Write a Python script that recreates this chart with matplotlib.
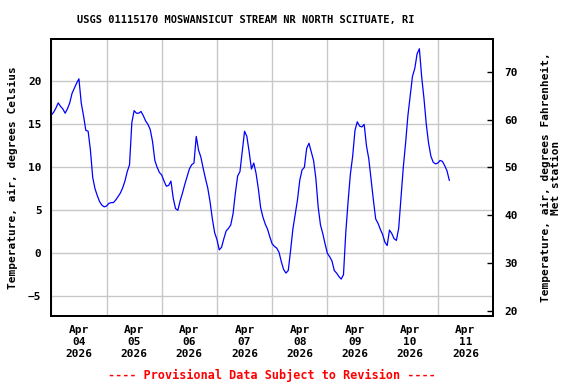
import matplotlib
matplotlib.use("Agg")
import matplotlib.pyplot as plt
import matplotlib.dates as mdates
from datetime import datetime, timedelta

# ---- data (hourly air temperature, deg C, starting 2026-04-04 00:00) ----
start_time = datetime(2026, 4, 4)
temps_c = [
    16.1, 16.4, 16.9, 17.5, 17.1, 16.8, 16.3, 16.8, 17.5, 18.6, 19.2, 19.8,
    20.3, 17.5, 16.0, 14.3, 14.2, 12.0, 8.8, 7.5, 6.7, 6.0, 5.6, 5.4,
    5.5, 5.8, 5.9, 5.9, 6.2, 6.6, 7.0, 7.6, 8.4, 9.5, 10.3, 15.2,
    16.6, 16.3, 16.3, 16.5, 16.0, 15.4, 15.0, 14.4, 13.0, 10.8, 10.0, 9.4,
    9.1, 8.4, 7.8, 7.9, 8.4, 6.4, 5.2, 5.0, 6.1, 7.0, 8.0, 8.9,
    9.8, 10.3, 10.5, 13.6, 12.0, 11.2, 9.9, 8.7, 7.6, 6.0, 4.0, 2.4,
    1.6, 0.4, 0.7, 1.7, 2.6, 2.9, 3.3, 4.6, 7.0, 9.0, 9.5, 11.8,
    14.2, 13.6, 11.8, 9.8, 10.5, 9.3, 7.5, 5.3, 4.2, 3.4, 2.8, 1.9,
    1.1, 0.8, 0.6, 0.1, -1.0, -1.9, -2.3, -2.0, 0.3, 2.8, 4.5, 6.2,
    8.5, 9.7, 10.0, 12.2, 12.8, 11.8, 10.8, 8.7, 5.4, 3.3, 2.3, 1.1,
    0.0, -0.4, -0.9, -2.0, -2.3, -2.7, -3.0, -2.5, 2.4, 6.0, 9.2, 11.3,
    14.3, 15.3, 14.8, 14.7, 15.0, 12.5, 11.0, 8.6, 6.2, 4.0, 3.5, 2.8,
    2.2, 1.3, 0.9, 2.7, 2.3, 1.7, 1.5, 2.9, 6.5, 10.0, 12.8, 16.0,
    18.3, 20.6, 21.5, 23.2, 23.8, 20.5, 18.0, 15.0, 12.8, 11.3, 10.6, 10.4,
    10.5, 10.8, 10.7, 10.2, 9.6, 8.5,
]
times = [start_time + timedelta(hours=i) for i in range(len(temps_c))]

y_ticks_c = [-5, 0, 5, 10, 15, 20]
y_ticks_f = [20, 30, 40, 50, 60, 70]
ylim_c = (-7.26, 24.9)

title = "USGS 01115170 MOSWANSICUT STREAM NR NORTH SCITUATE, RI"
ylabel_left = "Temperature, air, degrees Celsius"
ylabel_right = "Temperature, air, degrees Fahrenheit,\nMet station"
footer = "---- Provisional Data Subject to Revision ----"

plt.rcParams["font.family"] = ["DejaVu Sans Mono"]
plt.rcParams["font.weight"] = "bold"

fig = plt.figure(figsize=(5.76, 3.84), dpi=100)
ax = fig.add_axes([0.0891, 0.1779, 0.7668, 0.7198])

ax.plot(times, temps_c, color="#0000ff", lw=0.9, zorder=3)

ax.set_xlim(start_time, start_time + timedelta(days=8))
ax.set_ylim(*ylim_c)
ax.set_yticks(y_ticks_c)

ax.xaxis.set_major_locator(mdates.HourLocator(byhour=12))
ax.xaxis.set_major_formatter(mdates.DateFormatter("%b\n%d\n%Y"))
ax.xaxis.set_minor_locator(mdates.DayLocator())

ax.grid(which="minor", axis="x", color="#c8c8c8", lw=1.0)
ax.grid(which="major", axis="y", color="#c8c8c8", lw=1.0)
ax.set_axisbelow(True)

ax.tick_params(axis="x", which="both", length=0, pad=7, labelsize=8)
ax.tick_params(axis="y", which="both", length=0, pad=7, labelsize=8)
for s in ax.spines.values():
    s.set_linewidth(1.4)

ax.set_ylabel(ylabel_left, fontsize=8, fontweight="bold", labelpad=7)

ax2 = ax.twinx()
ax2.set_ylim(ylim_c[0] * 9 / 5 + 32, ylim_c[1] * 9 / 5 + 32)
ax2.set_yticks(y_ticks_f)
ax2.tick_params(axis="y", direction="in", length=4, width=1, pad=8, labelsize=8)
for s in ax2.spines.values():
    s.set_linewidth(1.4)

fig.text(551 / 576, 1 - 177.5 / 384, ylabel_right, rotation=90,
         ha="center", va="center", multialignment="center",
         fontsize=8, fontweight="bold", linespacing=1.1)
fig.text(246 / 576, 1 - 20 / 384, title, ha="center", va="center",
         fontsize=7.5, fontweight="bold")
fig.text(272 / 576, 1 - 375 / 384, footer, ha="center", va="center",
         fontsize=8.5, fontweight="bold", color="red")

fig.savefig("out.png", dpi=100)
